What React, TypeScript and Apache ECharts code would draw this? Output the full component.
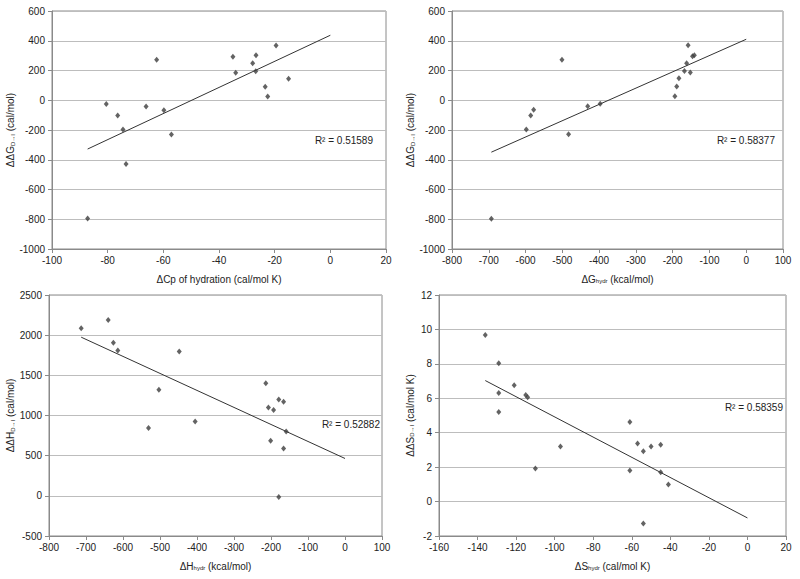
import React, { useEffect, useRef } from "react";
import * as echarts from "echarts";

// Panel 1: ΔCp of hydration vs ΔΔG
const cpHyd = [-87.2, -80.5, -76.4, -74.5, -73.4, -66.2, -62.4, -59.8, -57.1, -35.0, -34.0, -27.9, -26.7, -26.8, -23.4, -22.5, -19.5, -15.0];
const ddG1 = [-795, -25, -103, -197, -428, -42, 272, -67, -230, 293, 185, 248, 302, 195, 90, 25, 368, 145];
const trend1X = [-87.2, 0];
const trend1Y = [-328, 437];

// Panel 2: ΔG hydr vs ΔΔG
const gHyd = [-693, -598, -586, -578, -501, -483, -431, -397, -194, -189, -183, -168, -162, -158, -152, -146, -141];
const ddG2 = [-796, -196, -102, -64, 272, -228, -40, -24, 27, 92, 148, 196, 248, 370, 186, 295, 302];
const trend2X = [-693, 0];
const trend2Y = [-349, 410];

// Panel 3: ΔH hydr vs ΔΔH
const hHyd = [-713, -640, -626, -614, -531, -503, -448, -405, -214, -207, -179, -166, -193, -159, -201, -166, -179];
const ddH = [2085, 2190, 1905, 1810, 845, 1320, 1797, 925, 1400, 1100, 1200, 1170, 1070, 800, 685, 588, -15];
const trend3X = [-713, 0];
const trend3Y = [1975, 465];

// Panel 4: ΔS hydr vs ΔΔS
const sHyd = [-136, -129, -129, -129, -121, -115, -114, -110, -97, -61, -61, -57, -54, -54, -50, -45, -45, -41];
const ddS = [9.67, 8.04, 6.31, 5.2, 6.76, 6.19, 6.06, 1.92, 3.2, 4.62, 1.81, 3.37, 2.93, -1.27, 3.2, 3.3, 1.7, 0.99];
const trend4X = [-136, 0];
const trend4Y = [7.03, -0.95];

const r2Labels = ["R² = 0.51589", "R² = 0.58377", "R² = 0.52882", "R² = 0.58359"];

const FONT = "'Liberation Sans', Arial, sans-serif";
const TXT = "#222";

const zip = (xs: number[], ys: number[]) => xs.map((x, i) => [x, ys[i]]);

export default function App() {
  const ref = useRef<HTMLDivElement>(null);
  useEffect(() => {
    if (!ref.current) return;
    const chart = echarts.init(ref.current, null, { renderer: "svg" });

    const rich = {
      a: { fontSize: 10, fontFamily: FONT, color: TXT },
      s: { fontSize: 6, fontFamily: FONT, color: TXT, padding: [4, 0, 0, 0] },
    };

    const grids = [
      { left: 52, top: 11, width: 334, height: 238 },
      { left: 452, top: 11, width: 331, height: 238 },
      { left: 49, top: 295, width: 333, height: 241 },
      { left: 439, top: 295, width: 347, height: 241 },
    ].map((g) => ({ ...g, show: true, borderColor: "#8a8a8a", borderWidth: 1, backgroundColor: "transparent" }));

    const xSpec = [
      { min: -100, max: 20, interval: 20, name: "{a|ΔCp of hydration (cal/mol K)}" },
      { min: -800, max: 100, interval: 100, name: "{a|ΔG}{s|hydr}{a| (kcal/mol)}" },
      { min: -800, max: 100, interval: 100, name: "{a|ΔH}{s|hydr}{a| (kcal/mol)}" },
      { min: -160, max: 20, interval: 20, name: "{a|ΔS}{s|hydr}{a| (cal/mol K)}" },
    ];
    const ySpec = [
      { min: -1000, max: 600, interval: 200, name: "{a|ΔΔG}{s|D→I}{a| (cal/mol)}", gap: 36 },
      { min: -1000, max: 600, interval: 200, name: "{a|ΔΔG}{s|D→I}{a| (cal/mol)}", gap: 36 },
      { min: -500, max: 2500, interval: 500, name: "{a|ΔΔH}{s|D→I}{a| (cal/mol)}", gap: 33 },
      { min: -2, max: 12, interval: 2, name: "{a|ΔΔS}{s|D→I}{a| (cal/mol K)}", gap: 24 },
    ];

    const fmt = (v: number) => String(v);

    const axisCommon = {
      axisLine: { show: true, onZero: false, lineStyle: { color: "#8a8a8a", width: 1 } },
      axisTick: { show: true, inside: false, length: 4, lineStyle: { color: "#8a8a8a" } },
      axisLabel: { fontSize: 10, fontFamily: FONT, color: TXT, formatter: fmt },
    };

    const xAxis = xSpec.map((s, i) => ({
      type: "value",
      gridIndex: i,
      min: s.min,
      max: s.max,
      interval: s.interval,
      name: s.name,
      nameLocation: "middle",
      nameGap: 25,
      nameTextStyle: { rich },
      splitLine: { show: false },
      ...axisCommon,
      axisLabel: { ...axisCommon.axisLabel, margin: 6 },
    }));

    const yAxis = ySpec.map((s, i) => ({
      type: "value",
      gridIndex: i,
      min: s.min,
      max: s.max,
      interval: s.interval,
      name: s.name,
      nameLocation: "middle",
      nameGap: s.gap,
      nameRotate: 90,
      nameTextStyle: { rich },
      splitLine: { show: true, lineStyle: { color: "#bdbdbd", width: 1 } },
      ...axisCommon,
      axisLabel: { ...axisCommon.axisLabel, margin: 7 },
    }));

    const pts = [zip(cpHyd, ddG1), zip(gHyd, ddG2), zip(hHyd, ddH), zip(sHyd, ddS)];
    const trends = [zip(trend1X, trend1Y), zip(trend2X, trend2Y), zip(trend3X, trend3Y), zip(trend4X, trend4Y)];

    const series: any[] = [];
    for (let i = 0; i < 4; i++) {
      series.push({
        type: "line",
        xAxisIndex: i,
        yAxisIndex: i,
        data: trends[i],
        symbol: "none",
        lineStyle: { color: "#333", width: 1 },
        silent: true,
        z: 2,
      });
      series.push({
        type: "scatter",
        xAxisIndex: i,
        yAxisIndex: i,
        data: pts[i],
        symbol: "diamond",
        symbolSize: [5, 6],
        itemStyle: { color: "#3c3c3c" },
        z: 3,
      });
    }

    const r2Pos = [
      [373, 140],
      [775, 140],
      [380, 424],
      [783, 407],
    ];

    chart.setOption({
      animation: false,
      grid: grids,
      xAxis,
      yAxis,
      series,
      graphic: r2Pos.map((p, i) => ({
        type: "text",
        x: p[0],
        y: p[1],
        style: {
          text: r2Labels[i],
          fontSize: 10,
          fontFamily: FONT,
          fill: TXT,
          align: "right",
          verticalAlign: "middle",
        },
      })),
    });
    return () => chart.dispose();
  }, []);

  return (
    <div
      ref={ref}
      style={{ position: "absolute", left: 0, top: 0, width: 800, height: 579, background: "#fff" }}
    />
  );
}
